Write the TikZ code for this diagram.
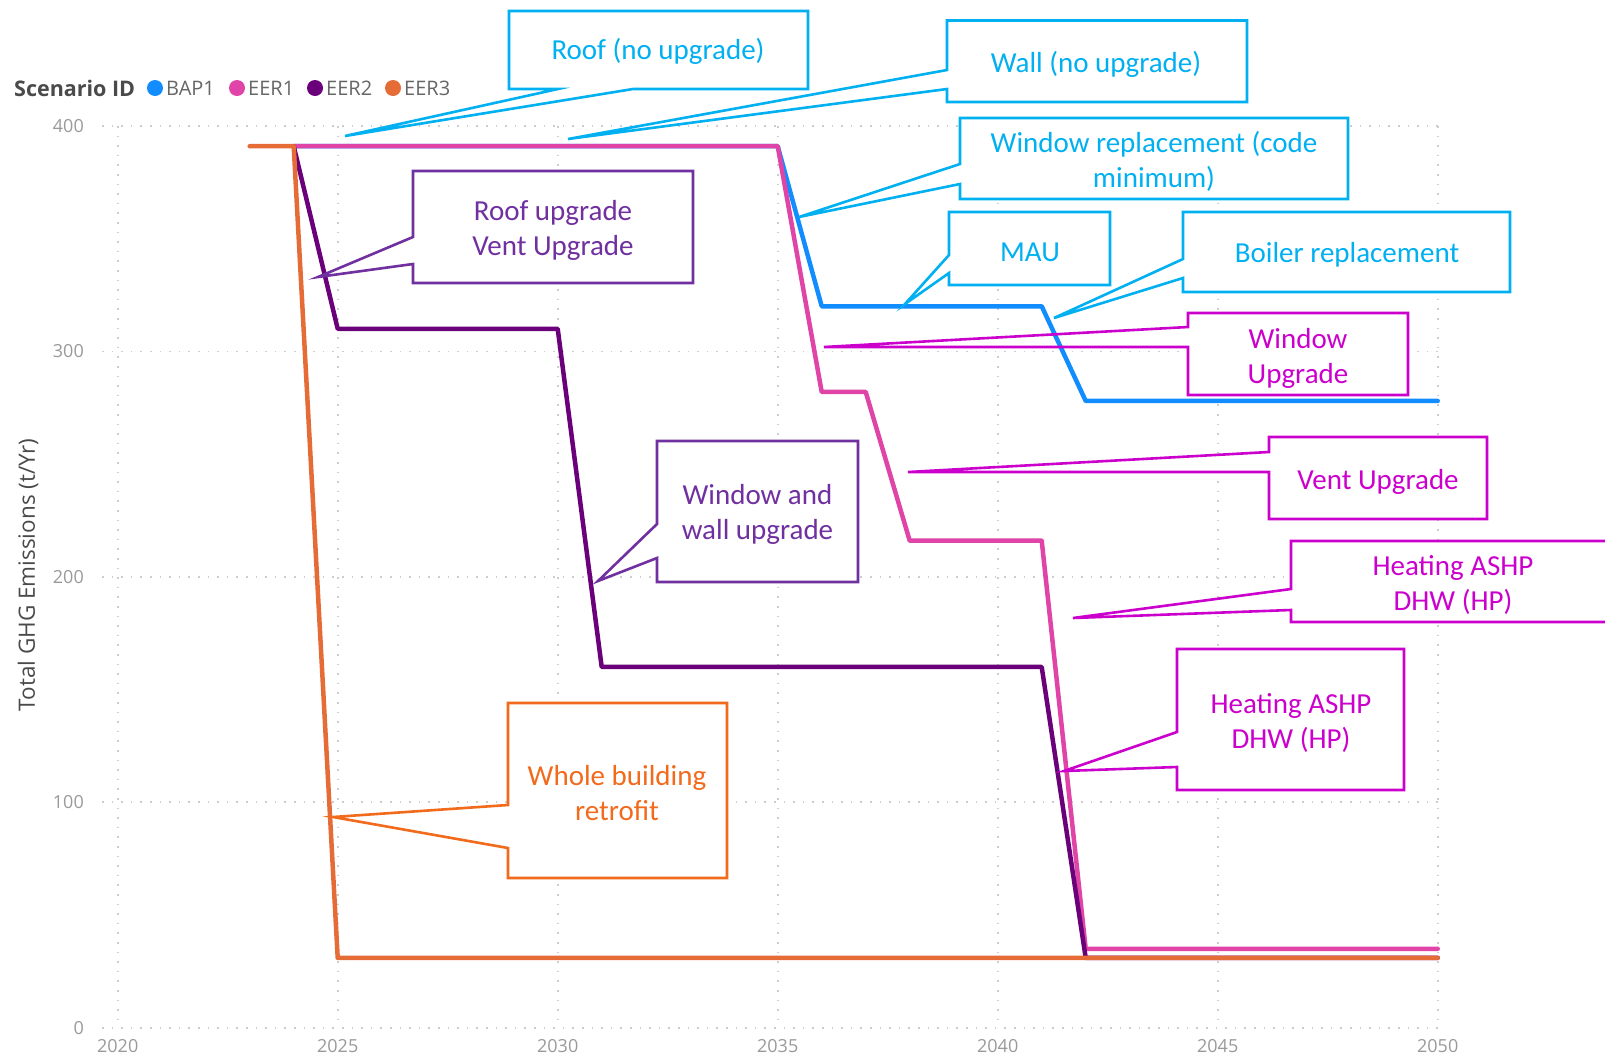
\documentclass[tikz,border=0pt]{standalone}
\usepackage{fontspec}
\setmainfont{Carlito}
\newfontfamily\uifont{Open Sans}
\definecolor{cBAP}{HTML}{118DFF}
\definecolor{cEERa}{HTML}{E044A7}
\definecolor{cEERb}{HTML}{6B007B}
\definecolor{cEERc}{HTML}{E66C37}
\definecolor{cCyan}{HTML}{00B0F0}
\definecolor{cMag}{HTML}{CC00CC}
\definecolor{cPur}{HTML}{7030A0}
\definecolor{cOra}{HTML}{F26A1B}
\definecolor{gridc}{HTML}{CDCDCD}
\definecolor{tickc}{HTML}{9A9A9A}
\definecolor{titlec}{HTML}{4A4A4A}
\definecolor{legc}{HTML}{666666}
% #1 style, #2 L, #3 T, #4 R, #5 B, #6 upper wedge y, #7 lower wedge y, #8 tip x, #9 tip y
\newcommand\callL[9]{\path[#1] (#2,#3) -- (#4,#3) -- (#4,#5) -- (#2,#5) -- (#2,#7) -- (#8,#9) -- (#2,#6) -- cycle;}
\begin{document}
\begin{tikzpicture}[x=1pt,y=-1pt,
  gridline/.style={gridc,line width=1.6pt,dash pattern=on 1.6pt off 8pt},
  series/.style={line width=4.5pt,line join=round,line cap=round},
  cfill/.style={fill=white,draw=none},
  cline/.style={line width=2.6pt,line join=miter},
  ctext/.style={font=\fontsize{29}{35}\selectfont,align=center,inner sep=0pt},
  ticklab/.style={font=\uifont\fontsize{18}{20}\selectfont,text=tickc,inner sep=0pt},
  legtext/.style={font=\uifont\fontsize{20}{22}\selectfont,text=legc,inner sep=0pt,anchor=west},
  legdot/.style={circle,inner sep=0pt,minimum size=16pt}]
\useasboundingbox[fill=white] (0,0) rectangle (1605,1058);

% grid
\foreach \yy in {125.9,351.3,576.8,802.2,1027.7} {\draw[gridline] (102,\yy) -- (1445,\yy);}
\foreach \xx in {117.7,337.7,557.7,777.7,997.7,1217.7,1437.7} {\draw[gridline] (\xx,126) -- (\xx,1028);}

% callout fills
\path[cfill] (509,11) -- (808,11) -- (808,89) -- (633,89) -- (345,136) -- (558,89) -- (509,89) -- cycle;
\callL{cfill}{947}{20.5}{1247}{102}{70}{89}{568}{139}
\callL{cfill}{960}{118}{1348}{199}{164}{184}{799}{217}
\callL{cfill}{949}{212}{1110}{285}{255}{273}{905}{304}
\callL{cfill}{1183}{212}{1510}{292}{259}{278}{1054}{318}
\callL{cfill}{1188}{313}{1408}{395}{327}{347}{824}{347}
\callL{cfill}{1269}{437}{1487}{519}{452}{472}{908}{472}
\callL{cfill}{1291}{541}{1625}{622}{589}{610}{1073}{618}
\callL{cfill}{1177}{649}{1404}{790}{732}{767}{1064}{771}
\callL{cfill}{657}{441}{858}{582}{524}{558}{598}{581}
\callL{cfill}{413}{171}{693}{283}{237}{264}{318}{277}
\callL{cfill}{508}{703}{727}{878}{805}{848}{333}{817}

% data series (x = year-2020, y = value)
\begin{scope}[shift={(117.7,1027.7)},x=44pt,y=2.2545pt]
\draw[series,cBAP] (4,391) -- (15,391) -- (16,320) -- (21,320) -- (22,278) -- (30,278);
\draw[series,cEERa] (4,391) -- (15,391) -- (16,282) -- (17,282) -- (18,216) -- (21,216) -- (22,35) -- (30,35);
\draw[series,cEERb] (4,391) -- (5,310) -- (10,310) -- (11,160) -- (21,160) -- (22,31) -- (30,31);
\draw[series,cEERc] (3,391) -- (4,391) -- (5,31) -- (30,31);
\end{scope}

% callout outlines
\path[cline,draw=cCyan] (509,11) -- (808,11) -- (808,89) -- (633,89) -- (345,136) -- (558,89) -- (509,89) -- cycle;
\callL{cline,draw=cCyan}{947}{20.5}{1247}{102}{70}{89}{568}{139}
\callL{cline,draw=cCyan}{960}{118}{1348}{199}{164}{184}{799}{217}
\callL{cline,draw=cCyan}{949}{212}{1110}{285}{255}{273}{905}{304}
\callL{cline,draw=cCyan}{1183}{212}{1510}{292}{259}{278}{1054}{318}
\callL{cline,draw=cMag}{1188}{313}{1408}{395}{327}{347}{824}{347}
\callL{cline,draw=cMag}{1269}{437}{1487}{519}{452}{472}{908}{472}
\callL{cline,draw=cMag}{1291}{541}{1625}{622}{589}{610}{1073}{618}
\callL{cline,draw=cMag}{1177}{649}{1404}{790}{732}{767}{1064}{771}
\callL{cline,draw=cPur}{657}{441}{858}{582}{524}{558}{598}{581}
\callL{cline,draw=cPur}{413}{171}{693}{283}{237}{264}{318}{277}
\callL{cline,draw=cOra}{508}{703}{727}{878}{805}{848}{333}{817}

% callout texts
\node[ctext,text=cCyan] (tRoof) at (658,51) {Roof (no upgrade)};
\node[ctext,text=cCyan] (tWall) at (1096,64) {Wall (no upgrade)};
\node[ctext,text=cCyan] (tWinRep) at (1154,161) {Window replacement (code\\minimum)};
\node[ctext,text=cCyan] (tMAU) at (1030,252) {MAU};
\node[ctext,text=cCyan] (tBoiler) at (1347,255) {Boiler replacement};
\node[ctext,text=cMag] (tWinUp) at (1298,358) {Window\\Upgrade};
\node[ctext,text=cMag] (tVent) at (1378,482) {Vent Upgrade};
\node[ctext,text=cMag] (tHeatU) at (1453,585) {Heating ASHP\\DHW (HP)};
\node[ctext,text=cMag] (tHeatL) at (1291,723) {Heating ASHP\\DHW (HP)};
\node[ctext,text=cPur] (tWinWall) at (757.5,514) {Window and\\wall upgrade};
\node[ctext,text=cPur] (tRoofVent) at (553,230) {Roof upgrade\\Vent Upgrade};
\node[ctext,text=cOra] (tWhole) at (617,793) {Whole building\\retrofit};

% axis tick labels
\node[ticklab,anchor=east] (y400) at (84,125.9) {400};
\node[ticklab,anchor=east] (y300) at (84,351.3) {300};
\node[ticklab,anchor=east] (y200) at (84,576.8) {200};
\node[ticklab,anchor=east] (y100) at (84,802.2) {100};
\node[ticklab,anchor=east] (y0) at (84,1027.7) {0};
\node[ticklab] (x2020) at (117.7,1046) {2020};
\node[ticklab] (x2025) at (337.7,1046) {2025};
\node[ticklab] (x2030) at (557.7,1046) {2030};
\node[ticklab] (x2035) at (777.7,1046) {2035};
\node[ticklab] (x2040) at (997.7,1046) {2040};
\node[ticklab] (x2045) at (1217.7,1046) {2045};
\node[ticklab] (x2050) at (1437.7,1046) {2050};

% axis title
\node[font=\uifont\fontsize{22.5}{24}\selectfont,text=titlec,rotate=90,inner sep=0pt] (ytitle) at (28,575) {Total GHG Emissions (t/Yr)};

% legend
\node[font=\uifont\bfseries\fontsize{21.5}{23}\selectfont,text=titlec,anchor=west,inner sep=0pt] (legtitle) at (14,88) {Scenario ID};
\node[legdot,fill=cBAP] (dBAP) at (155,88) {};
\node[legtext] (lBAP) at (166,88) {BAP1};
\node[legdot,fill=cEERa] (dEERa) at (237,88) {};
\node[legtext] (lEERa) at (248,88) {EER1};
\node[legdot,fill=cEERb] (dEERb) at (315,88) {};
\node[legtext] (lEERb) at (326,88) {EER2};
\node[legdot,fill=cEERc] (dEERc) at (393,88) {};
\node[legtext] (lEERc) at (404,88) {EER3};
\end{tikzpicture}
\end{document}
